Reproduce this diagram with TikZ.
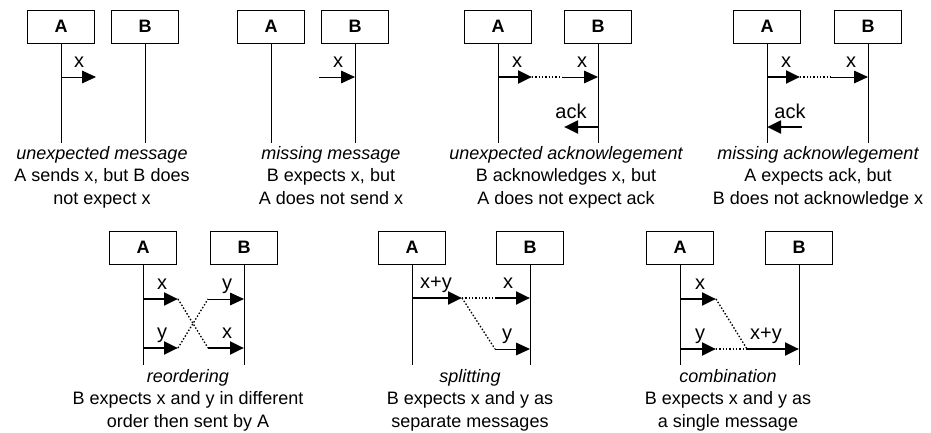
\documentclass[tikz,border=0pt]{standalone}
\usepackage{fontspec}
\setmainfont{Liberation Sans}
\usetikzlibrary{arrows.meta}

\tikzset{
  actor/.style={draw, line width=0.75pt, minimum width=50.25pt, minimum height=24.75pt,
    inner sep=0pt, font=\fontsize{13.5}{15}\selectfont\bfseries},
  life/.style={line width=0.75pt},
  tip/.style={-{Triangle[length=10.5pt,width=9.5pt]}},
  msg/.style={tip, line width=0.75pt},
  bigmsg/.style={tip, line width=2.1pt},
  link/.style={line width=1pt, dash pattern=on 1.1pt off 1.4pt},
  lbl/.style={inner sep=0pt, anchor=base, font=\fontsize{15}{17}\selectfont},
  % the base anchor of a multi-line caption sits on its last line
  caption/.style={inner sep=0pt, anchor=base, align=center, font=\fontsize{13.5}{16.8}\selectfont}
}

\begin{document}
\begin{tikzpicture}[x=0.75pt, y=-0.75pt]
\path[use as bounding box] (0,0) rectangle (931,432);

% ---------- unexpected message ----------
\node[actor] (a1) at (61,26.5) {A};
\node[actor] (b1) at (145,26.5) {B};
\coordinate (a1e) at (61,143);
\coordinate (b1e) at (145,143);
\draw[life] (a1) -- (a1e);
\draw[life] (b1) -- (b1e);
\coordinate (m1s) at (61,77);
\coordinate (m1e) at (96,77);
\draw[msg] (m1s) -- (m1e);
\node[lbl] (l1) at (79,67) {x};
\node[caption] (c1) at (102,204) {\itshape unexpected message\\A sends x, but B does\\not expect x};

% ---------- missing message ----------
\node[actor] (a2) at (271,26.5) {A};
\node[actor] (b2) at (355,26.5) {B};
\coordinate (a2e) at (271,143);
\coordinate (b2e) at (355,143);
\draw[life] (a2) -- (a2e);
\draw[life] (b2) -- (b2e);
\coordinate (m2s) at (319,77);
\coordinate (m2e) at (355,77);
\draw[msg] (m2s) -- (m2e);
\node[lbl] (l2) at (338,67) {x};
\node[caption] (c2) at (331,204) {\itshape missing message\\B expects x, but\\A does not send x};

% ---------- unexpected acknowledgement ----------
\node[actor] (a3) at (498,26.5) {A};
\node[actor] (b3) at (598,26.5) {B};
\coordinate (a3e) at (498,143);
\coordinate (b3e) at (598,143);
\draw[life] (a3) -- (a3e);
\draw[life] (b3) -- (b3e);
\coordinate (m3a) at (498,77);
\coordinate (m3b) at (532,77);
\coordinate (m3c) at (562,77);
\coordinate (m3d) at (598,77);
\draw[bigmsg] (m3a) -- (m3b);
\draw[link] (m3b) -- (m3c);
\draw[msg] (m3c) -- (m3d);
\node[lbl] (l3a) at (517,67) {x};
\node[lbl] (l3b) at (582,67) {x};
\coordinate (k3s) at (598,127);
\coordinate (k3e) at (564,127);
\draw[bigmsg] (k3s) -- (k3e);
\node[lbl] (l3k) at (571,118) {ack};
\node[caption] (c3) at (566,204) {\itshape unexpected acknowlegement\\B acknowledges x, but\\A does not expect ack};

% ---------- missing acknowledgement ----------
\node[actor] (a4) at (767,26.5) {A};
\node[actor] (b4) at (868,26.5) {B};
\coordinate (a4e) at (767,143);
\coordinate (b4e) at (868,143);
\draw[life] (a4) -- (a4e);
\draw[life] (b4) -- (b4e);
\coordinate (m4a) at (767,77);
\coordinate (m4b) at (800,77);
\coordinate (m4c) at (831,77);
\coordinate (m4d) at (868,77);
\draw[bigmsg] (m4a) -- (m4b);
\draw[link] (m4b) -- (m4c);
\draw[msg] (m4c) -- (m4d);
\node[lbl] (l4a) at (786,67) {x};
\node[lbl] (l4b) at (851,67) {x};
\coordinate (k4s) at (802,127);
\coordinate (k4e) at (767,127);
\draw[bigmsg] (k4s) -- (k4e);
\node[lbl] (l4k) at (790,118) {ack};
\node[caption] (c4) at (818,204) {\itshape missing acknowlegement\\A expects ack, but\\B does not acknowledge x};

% ---------- reordering ----------
\node[actor] (a5) at (143,247.5) {A};
\node[actor] (b5) at (244,247.5) {B};
\coordinate (a5e) at (143,365);
\coordinate (b5e) at (244,365);
\draw[life] (a5) -- (a5e);
\draw[life] (b5) -- (b5e);
\coordinate (x5a) at (143,299);
\coordinate (x5b) at (178,299);
\coordinate (y5a) at (143,348);
\coordinate (y5b) at (178,348);
\coordinate (y5c) at (208,299);
\coordinate (y5d) at (244,299);
\coordinate (x5c) at (208,348);
\coordinate (x5d) at (244,348);
\draw[bigmsg] (x5a) -- (x5b);
\draw[bigmsg] (y5a) -- (y5b);
\draw[link] (x5b) -- (x5c);
\draw[link] (y5b) -- (y5c);
\draw[msg] (y5c) -- (y5d);
\draw[bigmsg] (x5c) -- (x5d);
\node[lbl] (l5a) at (162,289) {x};
\node[lbl] (l5b) at (162,338) {y};
\node[lbl] (l5c) at (227,289) {y};
\node[lbl] (l5d) at (227,338) {x};
\node[caption] (c5) at (188,427) {\itshape reordering\\B expects x and y in different\\order then sent by A};

% ---------- splitting ----------
\node[actor] (a6) at (412,247.5) {A};
\node[actor] (b6) at (530,247.5) {B};
\coordinate (a6e) at (412,365);
\coordinate (b6e) at (530,365);
\draw[life] (a6) -- (a6e);
\draw[life] (b6) -- (b6e);
\coordinate (s6a) at (412,298);
\coordinate (s6b) at (462,298);
\coordinate (s6c) at (495,298);
\coordinate (s6d) at (530,298);
\coordinate (s6e) at (495,349);
\coordinate (s6f) at (530,349);
\draw[bigmsg] (s6a) -- (s6b);
\draw[link] (s6b) -- (s6c);
\draw[link] (s6b) -- (s6e);
\draw[bigmsg] (s6c) -- (s6d);
\draw[msg] (s6e) -- (s6f);
\node[lbl] (l6a) at (436,288) {x+y};
\node[lbl] (l6b) at (508,288) {x};
\node[lbl] (l6c) at (507,339) {y};
\node[caption] (c6) at (470,427) {\itshape splitting\\B expects x and y as\\separate messages};

% ---------- combination ----------
\node[actor] (a7) at (680,247.5) {A};
\node[actor] (b7) at (799,247.5) {B};
\coordinate (a7e) at (680,365);
\coordinate (b7e) at (799,365);
\draw[life] (a7) -- (a7e);
\draw[life] (b7) -- (b7e);
\coordinate (g7a) at (680,299);
\coordinate (g7b) at (716,299);
\coordinate (g7c) at (680,349);
\coordinate (g7d) at (716,349);
\coordinate (g7e) at (747,349);
\coordinate (g7f) at (799,349);
\draw[bigmsg] (g7a) -- (g7b);
\draw[bigmsg] (g7c) -- (g7d);
\draw[link] (g7b) -- (g7e);
\draw[link] (g7d) -- (g7e);
\draw[bigmsg] (g7e) -- (g7f);
\node[lbl] (l7a) at (700,289) {x};
\node[lbl] (l7b) at (700,339) {y};
\node[lbl] (l7c) at (766,339) {x+y};
\node[caption] (c7) at (728,427) {\itshape combination\\B expects x and y as\\a single message};
\end{tikzpicture}
\end{document}
